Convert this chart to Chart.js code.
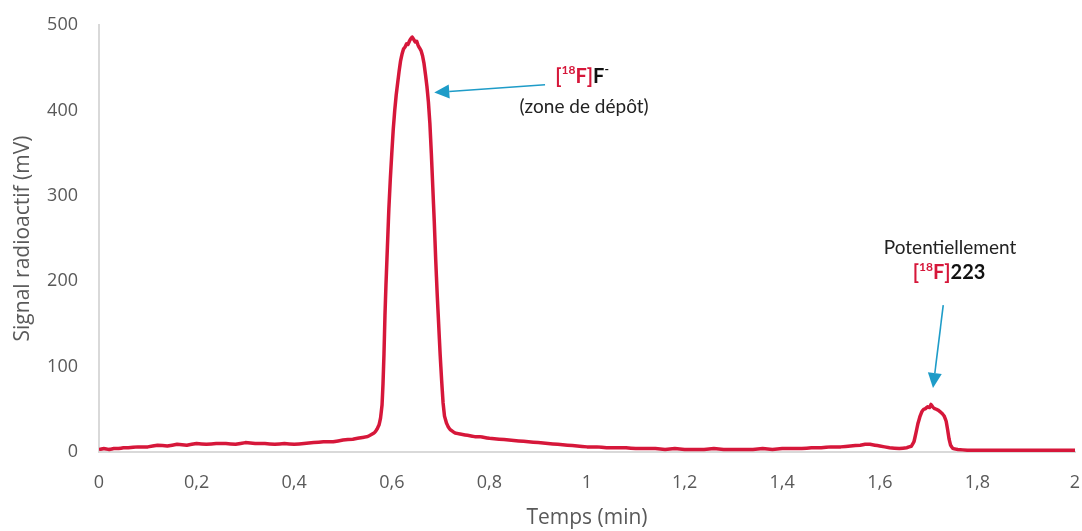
<!DOCTYPE html>
<html><head><meta charset="utf-8">
<script src="https://cdn.jsdelivr.net/npm/chart.js@4.4.1/dist/chart.umd.min.js"></script>
<style>html,body{margin:0;padding:0;background:#fff;}canvas{display:block;}</style>
</head><body>
<canvas id="c" width="1082" height="531"></canvas>
<script>
// time (min)
const timeMin = [0,0.01,0.02,0.03,0.04,0.05,0.06,0.08,0.10,0.12,0.14,0.16,0.18,0.20,0.22,0.24,0.26,0.28,0.30,0.32,0.34,0.36,0.38,0.40,0.42,0.44,0.46,0.48,0.50,0.52,0.54,0.55,0.56,0.565,0.57,0.574,0.577,
0.580,0.582,0.584,0.586,0.588,0.590,0.592,0.594,0.597,0.600,0.603,0.606,0.609,0.612,0.615,0.618,0.621,0.624,0.627,0.630,0.633,0.636,0.639,0.642,0.645,0.648,0.651,0.654,0.657,0.660,0.663,0.666,0.669,0.672,0.675,0.678,0.681,0.684,0.687,0.690,0.693,0.696,0.699,0.702,0.705,0.708,0.712,0.716,0.72,0.725,0.73,0.74,0.75,0.76,0.77,0.78,0.79,0.80,0.82,0.84,0.86,0.88,0.90,0.92,0.94,0.96,0.98,
1.00,1.02,1.04,1.06,1.08,1.10,1.12,1.14,1.16,1.18,1.20,1.22,1.24,1.26,1.28,1.30,1.32,1.34,1.36,1.38,1.40,1.42,1.44,1.46,1.48,1.50,1.52,1.54,1.56,1.57,1.58,1.59,1.60,1.62,1.64,1.655,1.665,1.670,1.674,1.678,1.682,1.686,1.690,1.694,1.698,1.702,1.705,1.708,1.712,1.716,1.720,1.724,1.728,1.732,1.736,1.739,1.742,1.745,1.75,1.76,1.78,1.80,1.85,1.90,1.95,2.00];
// radioactive signal (mV)
const signalMv = [3,4,3,4,4,5,5,6,6,8,7,9,8,10,9,10,10,9,11,10,10,9,10,9,10,11,12,12,14,15,17,18,21,23,27,32,40,
55,80,115,160,195,225,255,285,320,350,378,400,418,432,446,458,466,472,474,478,477,481,484,486,483,480,481,476,473,470,464,455,442,428,410,385,350,310,270,225,185,150,115,85,58,42,34,29,26,24,22,21,20,19,18,18,17,16,15,14,13,12,11,10,9,8,7,
6,6,5,5,5,4,4,4,3,4,3,3,3,4,3,3,3,3,4,3,4,4,4,5,5,6,6,7,8,9,9,8,7,5,4,5,7,12,22,33,41,47,50,51,53,52,56,53,51,50,49,47,45,42,36,26,15,8,4,3,2,2,2,2,2,2];
const xTickLabels = ['0','0,2','0,4','0,6','0,8','1','1,2','1,4','1,6','1,8','2'];
const yTickLabels = ['0','100','200','300','400','500'];

const RED = '#D6173A';
const BLUE = '#1E9CC8';
const GRAY = '#595959';

const annot = {
  id: 'annot',
  afterDraw(chart) {
    const ctx = chart.ctx;
    const xs = chart.scales.x, ys = chart.scales.y;
    function arrow(x1, y1, x2, y2) {
      const ax = xs.getPixelForValue(x1), ay = ys.getPixelForValue(y1);
      const bx = xs.getPixelForValue(x2), by = ys.getPixelForValue(y2);
      const ang = Math.atan2(by - ay, bx - ax);
      const hl = 15, hw = 7;
      ctx.save();
      ctx.strokeStyle = BLUE; ctx.fillStyle = BLUE; ctx.lineWidth = 1.6;
      ctx.beginPath(); ctx.moveTo(ax, ay);
      ctx.lineTo(bx - Math.cos(ang) * hl, by - Math.sin(ang) * hl); ctx.stroke();
      ctx.beginPath(); ctx.moveTo(bx, by);
      ctx.lineTo(bx - Math.cos(ang) * hl - Math.sin(ang) * hw, by - Math.sin(ang) * hl + Math.cos(ang) * hw);
      ctx.lineTo(bx - Math.cos(ang) * hl + Math.sin(ang) * hw, by - Math.sin(ang) * hl - Math.cos(ang) * hw);
      ctx.closePath(); ctx.fill();
      ctx.restore();
    }
    function rich(parts, cx, cy) {
      ctx.save();
      ctx.textBaseline = 'middle'; ctx.textAlign = 'left';
      let w = 0;
      parts.forEach(p => { ctx.font = p.font; w += ctx.measureText(p.t).width; });
      let x = cx - w / 2;
      parts.forEach(p => {
        ctx.font = p.font; ctx.fillStyle = p.c;
        ctx.fillText(p.t, x, cy + (p.dy || 0));
        x += ctx.measureText(p.t).width;
      });
      ctx.restore();
    }
    arrow(0.914, 430, 0.687, 421);
    arrow(1.730, 172, 1.709, 75);
    const B = 'bold 20px Lato', S = 'bold 12px Lato', N = '19px Lato';
    const p1x = xs.getPixelForValue(0.99), p1y = ys.getPixelForValue(440);
    rich([{t:'[',font:B,c:RED},{t:'18',font:S,c:RED,dy:-6},{t:'F]',font:B,c:RED},{t:'F',font:B,c:'#111'},{t:'-',font:S,c:'#111',dy:-7}], p1x, p1y);
    rich([{t:'(zone de dépôt)',font:N,c:'#222'}], xs.getPixelForValue(0.994), ys.getPixelForValue(404));
    rich([{t:'Potentiellement',font:N,c:'#222'}], xs.getPixelForValue(1.744), ys.getPixelForValue(239));
    rich([{t:'[',font:B,c:RED},{t:'18',font:S,c:RED,dy:-6},{t:'F]',font:B,c:RED},{t:'223',font:B,c:'#111'}], xs.getPixelForValue(1.742), ys.getPixelForValue(210));
  }
};

new Chart(document.getElementById('c'), {
  type: 'line',
  data: {
    datasets: [{
      data: timeMin.map((t, i) => ({x: t, y: signalMv[i]})),
      borderColor: RED, borderWidth: 3.5, pointRadius: 0, tension: 0.02, fill: false, borderJoinStyle: 'round'
    }]
  },
  options: {
    responsive: false, animation: false, devicePixelRatio: 1,
    layout: {padding: {left: 0, top: 25, right: 7, bottom: 0}},
    plugins: {legend: {display: false}, tooltip: {enabled: false}},
    scales: {
      x: {
        type: 'linear', min: 0, max: 2,
        afterFit: s => { s.height = 79; s.paddingLeft = 0; s.paddingRight = 0; },
        afterBuildTicks: s => { s.ticks = xTickLabels.map((l, i) => ({value: i * 0.2})); },
        ticks: {padding: 20, color: GRAY, font: {family: 'Open Sans', size: 18}, maxRotation: 0, autoSkip: false,
          callback: (v, i) => xTickLabels[i]},
        grid: {display: false, drawTicks: false},
        border: {display: true, color: '#d9d9d9', width: 2},
        title: {display: true, text: 'Temps (min)', color: GRAY, font: {family: 'Open Sans', size: 21}, padding: {top: 0, bottom: 0}}
      },
      y: {
        min: 0, max: 500,
        afterFit: s => { s.width = 99; s.paddingTop = 0; s.paddingBottom = 0; },
        afterBuildTicks: s => { s.ticks = yTickLabels.map(l => ({value: Number(l)})); },
        ticks: {padding: 21, color: GRAY, font: {family: 'Open Sans', size: 18}, callback: (v, i) => yTickLabels[i]},
        grid: {display: false, drawTicks: false},
        border: {display: true, color: '#d9d9d9', width: 2},
        title: {display: true, text: 'Signal radioactif (mV)', color: GRAY, font: {family: 'Open Sans', size: 21}, padding: {top: 10, bottom: 0}}
      }
    }
  },
  plugins: [annot]
});
</script>
</body></html>
